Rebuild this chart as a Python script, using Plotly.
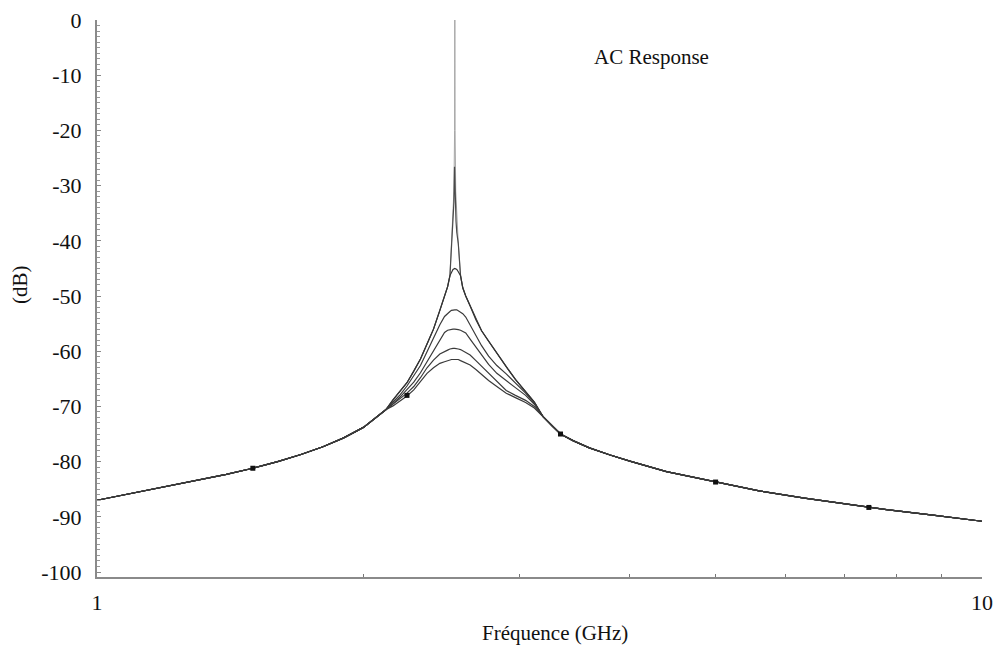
import plotly.graph_objects as go

# ---- data (frequency in GHz, response in dB) ----
tail_left_f = [1.00, 1.10, 1.20, 1.30, 1.40, 1.50, 1.60, 1.70, 1.80, 1.90, 2.00, 2.06, 2.12]
tail_left_db = [-87.0, -85.7, -84.5, -83.3, -82.3, -81.2, -80.0, -78.7, -77.3, -75.7, -73.8, -72.2, -70.6]

tail_right_f = [3.19, 3.27, 3.34, 3.45, 3.60, 3.80, 4.00, 4.40, 5.00, 5.60, 6.30, 7.00, 7.80, 8.80, 10.0]
tail_right_db = [-71.8, -73.6, -75.0, -76.2, -77.5, -78.8, -79.9, -81.8, -83.7, -85.3, -86.6, -87.6, -88.7, -89.7, -90.8]

# common frequency grid around the resonance
peak_f = [2.16, 2.20, 2.24, 2.28, 2.32, 2.36, 2.40, 2.44, 2.47, 2.49, 2.505, 2.515,
          2.525, 2.537, 2.55, 2.56, 2.575, 2.59, 2.61, 2.64, 2.68, 2.72, 2.77,
          2.83, 2.90, 2.97, 3.05, 3.12]

env_db = [-68.8, -67.3, -65.7, -63.6, -61.4, -58.7, -56.0, -52.6, -50.1, -48.3, -46.3, -45.6,
          -45.2, -45.0, -45.2, -45.6, -46.3, -48.5, -50.0, -51.8, -54.3, -56.3, -58.2,
          -60.4, -62.8, -65.1, -67.3, -69.2]

# sharp tips of the two highest-Q responses (frequency, dB)
tipA_f = [2.515, 2.525, 2.531, 2.5355, 2.537, 2.5385, 2.543, 2.55, 2.56]
tipA_db = [-40.5, -36.5, -31.0, -20.0, 0.0, -20.0, -31.0, -36.5, -40.5]
tipB_f = [2.515, 2.525, 2.531, 2.535, 2.539, 2.545, 2.55, 2.56]
tipB_db = [-40.5, -36.5, -33.0, -26.6, -33.0, -36.5, -38.5, -40.5]

peakD_db = [-69.2, -67.9, -66.3, -64.5, -62.6, -60.1, -57.6, -55.2, -53.7, -53.1, -52.8, -52.6,
            -52.5, -52.5, -52.5, -52.7, -52.9, -53.2, -53.8, -55.2, -57.1, -59.0, -60.9,
            -62.6, -64.1, -65.7, -67.6, -69.4]
peakE_db = [-69.5, -68.3, -67.0, -65.6, -63.9, -61.9, -59.8, -57.8, -56.6, -56.2, -56.1, -56.0,
            -56.0, -56.0, -56.0, -56.1, -56.2, -56.4, -56.7, -57.8, -59.2, -60.8, -62.4,
            -64.0, -65.4, -66.6, -68.0, -69.6]
peakF_db = [-69.6, -68.6, -67.6, -66.4, -64.8, -63.0, -61.6, -60.5, -60.0, -59.8, -59.6, -59.5,
            -59.5, -59.5, -59.5, -59.6, -59.7, -59.9, -60.2, -60.7, -61.7, -62.7, -64.0,
            -65.5, -67.1, -68.0, -68.9, -70.0]
peakG_db = [-69.9, -69.0, -68.1, -67.0, -65.5, -64.0, -63.0, -62.2, -61.9, -61.7, -61.6, -61.5,
            -61.5, -61.5, -61.5, -61.5, -61.7, -61.9, -62.1, -62.5, -63.3, -64.2, -65.3,
            -66.4, -67.6, -68.4, -69.3, -70.3]

marker_f = [1.50, 2.24, 3.34, 5.00, 7.45]
marker_db = [-81.2, -68.0, -75.0, -83.7, -88.3]

x_ticks = [1, 10]
x_ticklabels = ["1", "10"]
x_minor = [2, 3, 4, 5, 6, 7, 8, 9]
y_ticks = [0, -10, -20, -30, -40, -50, -60, -70, -80, -90, -100]
y_ticklabels = ["0", "-10", "-20", "-30", "-40", "-50", "-60", "-70", "-80", "-90", "-100"]

FONT = "Liberation Serif, Times New Roman, serif"

fig = go.Figure()


def add_curve(mid_f, mid_db, color, width):
    fig.add_trace(go.Scatter(
        x=tail_left_f + mid_f + tail_right_f,
        y=tail_left_db + mid_db + tail_right_db,
        mode="lines",
        line=dict(color=color, width=width),
        showlegend=False,
        hoverinfo="skip",
    ))


def with_tip(tip_f, tip_db):
    # envelope outside the tip span, tip values inside it
    lo, hi = tip_f[0], tip_f[-1]
    left = [(f, d) for f, d in zip(peak_f, env_db) if f < lo]
    right = [(f, d) for f, d in zip(peak_f, env_db) if f > hi]
    pts = left + list(zip(tip_f, tip_db)) + right
    return [p[0] for p in pts], [p[1] for p in pts]


fa, da = with_tip(tipA_f, tipA_db)
fb, db = with_tip(tipB_f, tipB_db)
add_curve(fa, da, "#a6a6a6", 1)
add_curve(fb, db, "#4a4a4a", 1.2)
add_curve(peak_f, env_db, "#333333", 1.2)
add_curve(peak_f, peakD_db, "#3a3a3a", 1.2)
add_curve(peak_f, peakE_db, "#3a3a3a", 1.2)
add_curve(peak_f, peakF_db, "#3a3a3a", 1.2)
add_curve(peak_f, peakG_db, "#3a3a3a", 1.2)

fig.add_trace(go.Scatter(
    x=marker_f, y=marker_db, mode="markers",
    marker=dict(symbol="square", size=5, color="#111111"),
    showlegend=False, hoverinfo="skip",
))

# the page body adds an 8px offset; margins are chosen so the plot area
# lands at x 97..982, y 20..577 in the window
fig.update_layout(
    width=1002, height=646,
    margin=dict(l=89, r=28, t=12, b=77, autoexpand=False),
    paper_bgcolor="white", plot_bgcolor="white",
    font=dict(family=FONT, color="#111111"),
    xaxis=dict(
        type="log", range=[0, 1], automargin=False,
        tickvals=x_ticks, ticktext=x_ticklabels,
        ticks="", showgrid=False, zeroline=False,
        showline=True, linecolor="#8a8a8a", linewidth=2,
        tickfont=dict(family=FONT, size=22, color="#111111"),
        ticklabelstandoff=5, ticklabeloverflow="allow",
        minor=dict(tickvals=x_minor, ticks="inside", ticklen=3,
                   tickcolor="#777777", tickwidth=1, showgrid=False),
    ),
    yaxis=dict(
        range=[-100.9, 0], automargin=False,
        tickvals=y_ticks, ticktext=y_ticklabels,
        ticks="inside", ticklen=4, tickcolor="#888888",
        showgrid=False, zeroline=False,
        showline=True, linecolor="#8a8a8a", linewidth=2,
        tickfont=dict(family=FONT, size=22, color="#111111"),
        ticklabelstandoff=9, ticklabeloverflow="allow",
        minor=dict(dtick=1, ticks="inside", ticklen=3,
                   tickcolor="#999999", tickwidth=1, showgrid=False),
    ),
    annotations=[
        dict(text="AC Response", x=(651 - 97) / 885, y=(577 - 57) / 557,
             xref="paper", yref="paper", showarrow=False,
             xanchor="center", yanchor="middle",
             font=dict(family=FONT, size=21, color="#111111")),
        dict(text="Fréquence (GHz)", x=(555 - 97) / 885, y=-(633 - 577) / 557,
             xref="paper", yref="paper", showarrow=False,
             xanchor="center", yanchor="middle",
             font=dict(family=FONT, size=21, color="#111111")),
        dict(text="(dB)", x=-(97 - 20) / 885, y=(577 - 285) / 557,
             xref="paper", yref="paper", showarrow=False, textangle=-90,
             xanchor="center", yanchor="middle",
             font=dict(family=FONT, size=21, color="#111111")),
    ],
)

fig.write_html("out.html")
